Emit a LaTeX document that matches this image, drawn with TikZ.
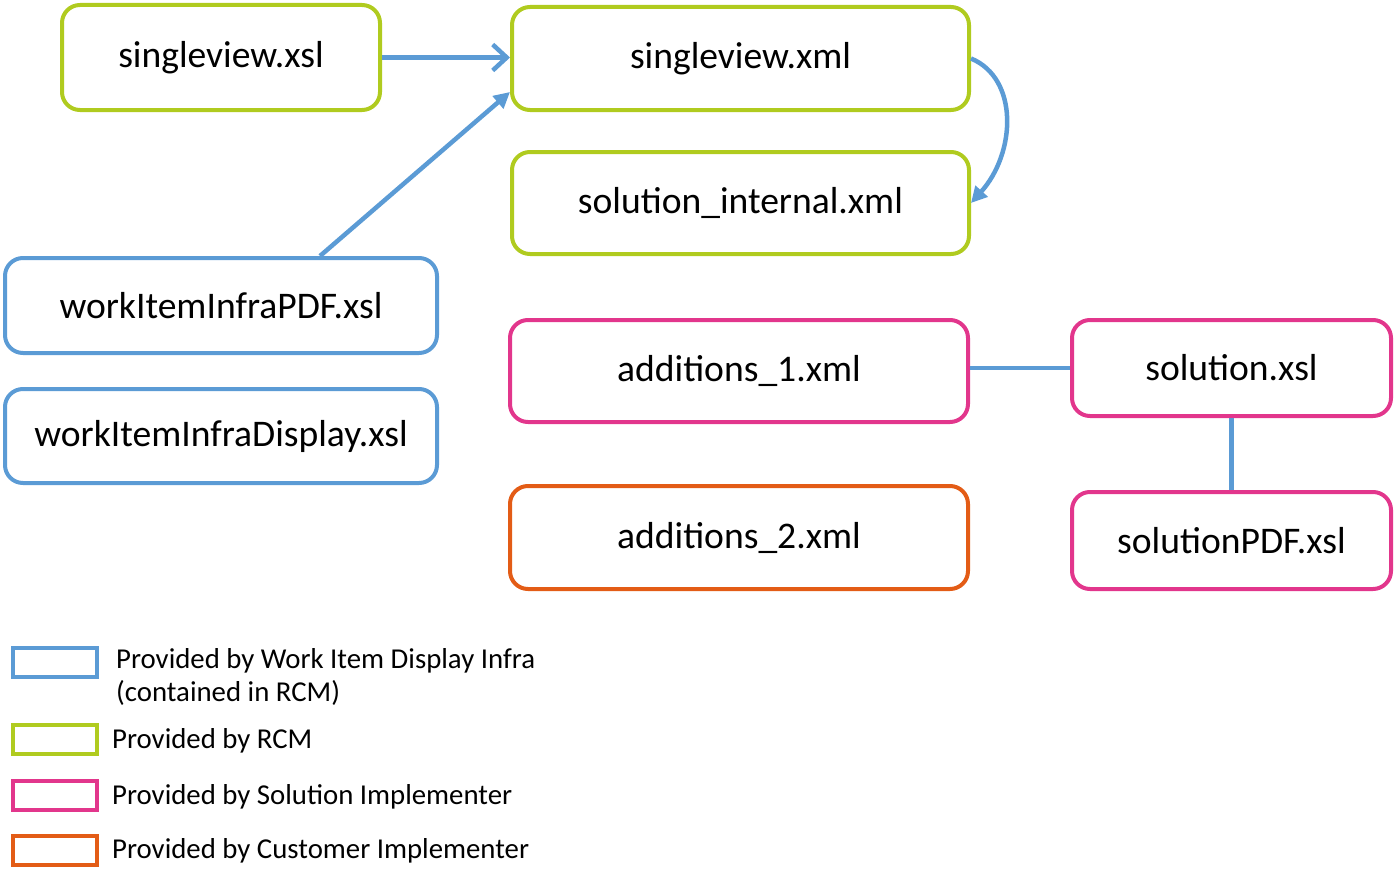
\documentclass[tikz,border=0pt]{standalone}
\usepackage{fontspec}
\setmainfont{Carlito}
\usepackage{xcolor}
\definecolor{wiblue}{RGB}{91,155,213}
\definecolor{rcmgreen}{RGB}{176,203,31}
\definecolor{solpink}{RGB}{226,54,140}
\definecolor{custorange}{RGB}{227,92,22}
\usetikzlibrary{arrows.meta}
\newcommand{\legkey}[3]{\node[keybox,draw=#2] (#1) at (55,#3) {};}

\begin{document}
\begin{tikzpicture}[x=1pt,y=-1pt,
  filebox/.style={draw,rounded corners=18pt,line width=4pt,inner sep=0pt,font=\fontsize{37.6}{45}\selectfont},
  keybox/.style={line width=4pt,minimum width=84pt,minimum height=29pt,inner sep=0pt},
  keytext/.style={anchor=base west,inner sep=0pt,font=\fontsize{28.8}{35}\selectfont},
  link/.style={wiblue,line width=4.5pt}]
\useasboundingbox (0,0) rectangle (1395,883);
% ---- RCM files ----
\node[filebox,draw=rcmgreen,minimum width=318pt,minimum height=105pt] (svxsl) at (221,57.5) {singleview.xsl};
\node[filebox,draw=rcmgreen,minimum width=457pt,minimum height=103pt] (svxml) at (740.5,58.5) {singleview.xml};
\node[filebox,draw=rcmgreen,minimum width=457pt,minimum height=102pt] (solint) at (740.5,203) {solution\_internal.xml};
% ---- Work Item Display Infra ----
\node[filebox,draw=wiblue,minimum width=432pt,minimum height=95pt] (wipdf) at (221,305.5) {workItemInfraPDF.xsl};
\node[filebox,draw=wiblue,minimum width=432pt,minimum height=94pt] (widisp) at (221,436) {workItemInfraDisplay.xsl};
% ---- solution / customer ----
\node[filebox,draw=solpink,minimum width=458pt,minimum height=102pt] (add1) at (739,371) {additions\_1.xml};
\node[filebox,draw=custorange,minimum width=458pt,minimum height=103pt] (add2) at (739,537.5) {additions\_2.xml};
\node[filebox,draw=solpink,minimum width=319pt,minimum height=96pt] (solxsl) at (1231.5,368) {solution.xsl};
\node[filebox,draw=solpink,minimum width=319pt,minimum height=97pt] (solpdf) at (1231.5,540.5) {solutionPDF.xsl};
% ---- connectors ----
\draw[link,-{Straight Barb[length=14pt,width=26pt]}] (svxsl.east) -- (svxsl.east -| svxml.west);
\draw[link,-{Triangle[length=16pt,width=16pt]}] ([xshift=99pt]wipdf.north) -- ([yshift=20pt]svxml.south west);
\draw[link,-{Triangle[length=16pt,width=16pt]}] (svxml.east) .. controls +(48,20) and +(45,-50) .. (solint.east);
\draw[link] (add1.east |- solxsl.west) -- (solxsl.west);
\draw[link] (solxsl.south) -- (solpdf.north);
% ---- legend ----
\legkey{keyblue}{wiblue}{662}
\legkey{keygreen}{rcmgreen}{739.5}
\legkey{keypink}{solpink}{795}
\legkey{keyorange}{custorange}{850}
\node[keytext] (txtblue) at (116,668) {Provided by Work Item Display Infra};
\node[keytext] (txtblueb) at (116,701) {(contained in RCM)};
\node[keytext] (txtgreen) at (112,748) {Provided by RCM};
\node[keytext] (txtpink) at (112,804) {Provided by Solution Implementer};
\node[keytext] (txtorange) at (112,858) {Provided by Customer Implementer};
\end{tikzpicture}
\end{document}
